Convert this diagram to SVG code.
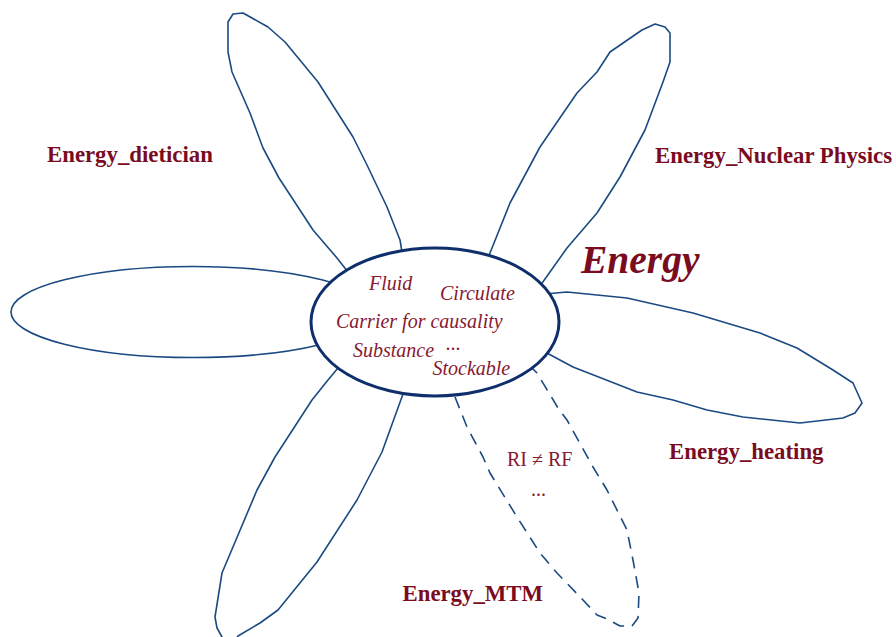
<svg xmlns="http://www.w3.org/2000/svg" width="896" height="637" viewBox="0 0 896 637">
<style>
.petal{fill:none;stroke:#1b4a82;stroke-width:1.6;stroke-linejoin:round;stroke-linecap:round}
.dash{stroke-dasharray:12 8;stroke-linecap:butt}
.core{fill:#ffffff;stroke:#0e2f6b;stroke-width:3}
.lbl{font-family:"Liberation Serif","Times New Roman",serif;font-weight:bold;font-size:22.8px;fill:#7a0c1f}
.it{font-family:"Liberation Serif","Times New Roman",serif;font-style:italic;font-size:20px;fill:#861a30}
.rg{font-family:"Liberation Serif","Times New Roman",serif;font-size:20px;fill:#861a30}
.title{font-family:"Liberation Serif","Times New Roman",serif;font-weight:bold;font-style:italic;font-size:39.5px;fill:#7a0c1f}
</style>
<rect width="896" height="637" fill="#ffffff"/>
<g id="connectors"/>
<g id="petal-left">
<ellipse class="petal" cx="193" cy="312" rx="182" ry="45.5"/>
</g>
<g id="petal-dietician">
<polyline class="petal" points="348,272 337,258 313,230 279,178 263,148 250,113 232,72 228,52 228,22 233,14 243,13 268,27 285,42 318,82 353,137 367,165 387,207 400,240 402,252"/>
<text class="lbl" x="47" y="162">Energy_dietician</text>
</g>
<g id="petal-nuclear">
<polyline class="petal" points="488,258 490,253 510,203 540,147 577,93 597,72 610,52 642,30 655,24 665,27 670,33 670,62 663,82 645,130 620,177 597,213 567,248 540,286"/>
<text class="lbl" x="655" y="162.5">Energy_Nuclear Physics</text>
</g>
<g id="petal-heating">
<polyline class="petal" points="545,294 567,292 627,298 693,313 760,333 797,348 833,370 853,383 862,403 855,413 843,418 800,423 743,417 707,410 673,400 637,392 573,367 545,352"/>
<text class="lbl" x="669" y="458.5">Energy_heating</text>
</g>
<g id="petal-bottom-left">
<polyline class="petal" points="338,368 328,380 312,400 275,457 257,490 222,573 215,617 217,628 222,637 226,642 234,642 238,636 260,623 278,610 317,562 357,500 382,452 403,394"/>
</g>
<g id="petal-mtm">
<polyline class="petal dash" points="455,397 467,427 483,457 490,473 517,517 540,553 557,573 583,600 597,615 607,619 620,626 632,626 638,618 639,593 633,560 627,530 607,490 593,467 567,420 558,408 537,373 532,368"/>
<text class="rg" x="507" y="465.5">RI ≠ RF</text>
<text class="rg" x="531" y="496">...</text>
<text class="lbl" x="402.5" y="601">Energy_MTM</text>
</g>
<g id="core">
<ellipse class="core" cx="435" cy="322" rx="124" ry="74"/>
<text class="it" x="369" y="289.5">Fluid</text>
<text class="it" x="440" y="300">Circulate</text>
<text class="it" x="336" y="327.5">Carrier for causality</text>
<text class="it" x="353" y="357">Substance</text>
<text class="it" x="446" y="350">...</text>
<text class="it" x="432.5" y="375">Stockable</text>
</g>
<g id="title">
<text class="title" x="581" y="273">Energy</text>
</g>
</svg>
